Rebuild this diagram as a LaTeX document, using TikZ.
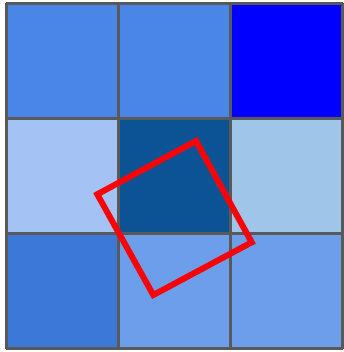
\documentclass[tikz,border=0pt]{standalone}
\usepackage{tikz}

\definecolor{cornflower}{HTML}{4A86E8}
\definecolor{purebl}{HTML}{0000FF}
\definecolor{paleblue}{HTML}{A4C2F4}
\definecolor{darkbl}{HTML}{0B5394}
\definecolor{skyish}{HTML}{9FC5E8}
\definecolor{midblue}{HTML}{3C78D8}
\definecolor{softblue}{HTML}{6D9EEB}
\definecolor{gridgray}{HTML}{595959}

\begin{document}
\begin{tikzpicture}[
    x=1pt, y=-1pt,
    cell/.style={draw=gridgray,line width=3pt},
    probe/.style={draw=red,line width=6pt}
]
\useasboundingbox (0,0) rectangle (343,352);
% cells, row by row
\foreach \c [count=\i from 0] in {cornflower,cornflower,purebl,paleblue,darkbl,skyish,midblue,softblue,softblue} {
    \pgfmathtruncatemacro{\col}{mod(\i,3)}
    \pgfmathtruncatemacro{\row}{div(\i,3)}
    \fill[\c] (6+112.3*\col,3.3+115.1*\row) rectangle ++(112.3,115.1);
}
\foreach \k in {0,...,3} {
    \draw[cell] (6+112.3*\k,3.3) -- (6+112.3*\k,348.6);
    \draw[cell] (6,3.3+115.1*\k) -- (342.9,3.3+115.1*\k);
}
% rotated window
\coordinate (top) at (196,141);
\coordinate (right) at (251.7,242.3);
\coordinate (bottom) at (153.3,295);
\coordinate (left) at (97.3,194.3);
\draw[probe] (top) -- (right) -- (bottom) -- (left) -- cycle;
\end{tikzpicture}
\end{document}
